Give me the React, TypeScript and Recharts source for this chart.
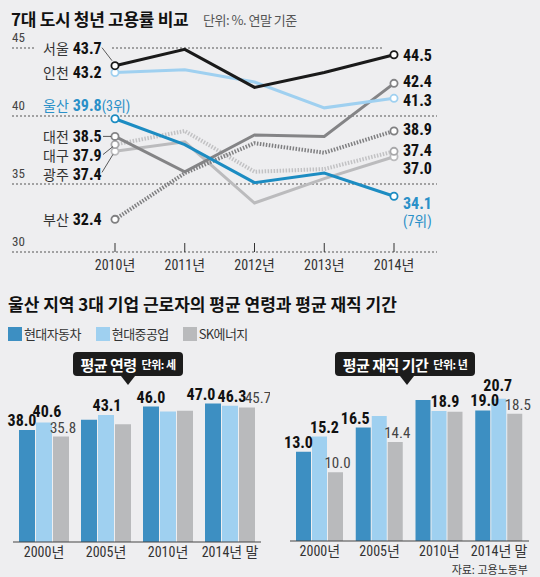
import React from 'react';
import {
  LineChart,
  Line,
  XAxis,
  YAxis,
  ReferenceLine,
  LabelList,
  BarChart,
  Bar,
} from 'recharts';

// 7대 도시 청년 고용률 (%), 연말 기준
const years = ['2010년', '2011년', '2012년', '2013년', '2014년'];
const seoul = [43.7, 44.9, 42.1, 43.2, 44.5];
const incheon = [43.2, 43.4, 42.5, 40.6, 41.3];
const ulsan = [39.8, 37.9, 35.1, 35.8, 34.1];
const daejeon = [38.5, 35.9, 38.6, 38.5, 42.4];
const daegu = [37.9, 38.9, 35.9, 36.1, 37.4];
const gwangju = [37.4, 38.1, 33.6, 35.4, 37.0];
const busan = [32.4, 35.8, 38.0, 37.3, 38.9];
const rateTicks = [30, 35, 40, 45];

// 울산 3대 기업
const barYears = ['2000년', '2005년', '2010년', '2014년 말'];
const companies = ['현대자동차', '현대중공업', 'SK에너지'];
const ageMotor = [38.0, 41.5, 46.0, 47.0];
const ageHeavy = [40.6, 43.1, 44.3, 46.3];
const ageSk = [35.8, 40.0, 44.6, 45.7];
const tenureMotor = [13.0, 16.5, 20.5, 19.0];
const tenureHeavy = [15.2, 18.2, 18.9, 20.7];
const tenureSk = [10.0, 14.4, 18.8, 18.5];
// values printed in the original graphic
const ageShown = [
  [true, false, true, true],
  [true, true, false, true],
  [true, false, false, true],
];
const tenureShown = [
  [true, true, false, true],
  [true, false, true, true],
  [true, true, false, true],
];

const BG = '#eeeef0';
const NARROW = "'Liberation Sans Narrow', 'Roboto Condensed', 'Noto Sans CJK KR', sans-serif";
const KR = "'Noto Sans CJK KR', sans-serif";
const barColors = ['#3d8fc2', '#9fd0f0', '#b9babc'];

const lineData = years.map((year, i) => ({
  year,
  seoul: seoul[i],
  incheon: incheon[i],
  ulsan: ulsan[i],
  daejeon: daejeon[i],
  daegu: daegu[i],
  gwangju: gwangju[i],
  busan: busan[i],
}));

type Series = {
  key: string;
  name: string;
  color: string;
  dash?: string;
  width: number;
  labelColor: string;
  leftDy: number;
  rightDy: number;
  leader?: number[];
  rank?: [string, string];
  mask?: boolean;
};

// drawn bottom to top
const series: Series[] = [
  { key: 'gwangju', name: '광주', color: '#bbbbbd', width: 3, labelColor: '#111', leftDy: 23, rightDy: 11, leader: [-13, 21, -2, 3] },
  { key: 'daegu', name: '대구', color: '#c2c2c4', dash: '1.5 1.5', width: 4, labelColor: '#111', leftDy: 11, rightDy: -1, leader: [-12, 10, -2, 2] },
  { key: 'busan', name: '부산', color: '#7f7f81', dash: '1.5 1.5', width: 4, labelColor: '#111', leftDy: 0, rightDy: -2 },
  { key: 'daejeon', name: '대전', color: '#848486', width: 3, labelColor: '#111', leftDy: 0, rightDy: -2, leader: [-12, 0, -4, 0] },
  { key: 'incheon', name: '인천', color: '#9fd0f0', width: 3, labelColor: '#111', leftDy: 0, rightDy: 1.5 },
  { key: 'seoul', name: '서울', color: '#1a1a1a', width: 3, labelColor: '#111', leftDy: -17, rightDy: 0, leader: [-13, -18, -3, -5], mask: true },
  { key: 'ulsan', name: '울산', color: '#1c8cc2', width: 3, labelColor: '#2a90c8', leftDy: -13, rightDy: 7, rank: ['(3위)', '(7위)'] },
];

function makeLineLabel(s: Series) {
  return (p: any) => {
    const { x, y, value, index } = p;
    if (index === 0) {
      const ty = y + s.leftDy;
      return (
        <g>
          {s.mask && <rect x={x - 80} y={ty - 8} width={77} height={16} fill={BG} />}
          {s.leader && (
            <line
              x1={x + s.leader[0]}
              y1={y + s.leader[1]}
              x2={x + s.leader[2]}
              y2={y + s.leader[3]}
              stroke="#333"
              strokeWidth={0.8}
            />
          )}
          <text x={x - 72} y={ty} dy="0.36em" fontFamily={NARROW}>
            <tspan fill={s.key === 'ulsan' ? s.labelColor : '#333'} fontSize={14} fontFamily={KR}>
              {s.name}
            </tspan>
            <tspan dx={4} fill={s.labelColor} fontSize={16} fontWeight={700}>
              {Number(value).toFixed(1)}
            </tspan>
            {s.rank && (
              <tspan fill={s.labelColor} fontSize={14}>
                {s.rank[0]}
              </tspan>
            )}
          </text>
        </g>
      );
    }
    if (index === years.length - 1) {
      const ty = y + s.rightDy;
      return (
        <g>
          {s.mask && <rect x={x - 12} y={y - 9} width={58} height={3.5} fill={BG} />}
          <text x={x + 9} y={ty} dy="0.36em" fontFamily={NARROW} fontSize={16} fontWeight={700} fill={s.labelColor}>
            {Number(value).toFixed(1)}
          </text>
          {s.rank && (
            <text x={x + 9} y={ty + 18} dy="0.36em" fontFamily={NARROW} fontSize={14} fill={s.labelColor}>
              {s.rank[1]}
            </text>
          )}
        </g>
      );
    }
    return null;
  };
}

function makeDot(s: Series) {
  return (p: any) => {
    const { cx, cy, index, key } = p;
    if (index !== 0 && index !== years.length - 1) return <g key={key} />;
    return <circle key={key} cx={cx} cy={cy} r={3.6} fill="#fff" stroke={s.color === '#c2c2c4' ? '#a8a8aa' : s.color} strokeWidth={1.8} />;
  };
}

const YearTick = (p: any) => {
  const { x, y, payload } = p;
  return (
    <g>
      <line x1={x} x2={x} y1={y - 9} y2={y} stroke="#333" strokeWidth={1} />
      <text x={x} y={y + 18} textAnchor="middle" fontFamily={NARROW} fontSize={14} fill="#333">
        {payload.value}
      </text>
    </g>
  );
};

const rateLabel = (v: number) => (p: any) => {
  const vb = p.viewBox || {};
  return (
    <text x={vb.x} y={vb.y - 6} fontFamily={NARROW} fontSize={13} fill="#444">
      {v}
    </text>
  );
};

function RateChart() {
  return (
    <LineChart
      width={540}
      height={290}
      data={lineData}
      margin={{ top: 48, right: 103, left: 12, bottom: 8 }}
    >
      <XAxis
        dataKey="year"
        height={30}
        padding={{ left: 103, right: 43 }}
        axisLine={false}
        tickLine={false}
        tickSize={0}
        tickMargin={0}
        tick={<YearTick />}
        interval={0}
      />
      <YAxis hide domain={[30, 45]} ticks={rateTicks} />
      {rateTicks.map((t) => (
        <ReferenceLine key={t} y={t} stroke="#555" strokeDasharray="2 2" strokeWidth={1} label={rateLabel(t)} />
      ))}
      {series.map((s) => (
        <Line
          key={s.key}
          dataKey={s.key}
          type="linear"
          stroke={s.color}
          strokeWidth={s.width}
          strokeDasharray={s.dash}
          dot={makeDot(s)}
          activeDot={false}
          isAnimationActive={false}
        >
          <LabelList dataKey={s.key} content={makeLineLabel(s)} />
        </Line>
      ))}
    </LineChart>
  );
}

const BarTick = (p: any) => {
  const { x, y, payload } = p;
  return (
    <text x={x} y={y} dy="0.71em" textAnchor="middle" fontFamily={NARROW} fontSize={14} fill="#333">
      {payload.value}
    </text>
  );
};

function makeBarLabel(shown: boolean[], dx: number[], dy: number[], bold: boolean) {
  return (p: any) => {
    const { x, y, width, value, index } = p;
    if (!shown[index]) return null;
    return (
      <text
        x={x + width / 2 + dx[index]}
        y={y - 4 + dy[index]}
        textAnchor="middle"
        fontFamily={NARROW}
        fontSize={bold ? 16 : 15}
        fontWeight={bold ? 700 : 400}
        fill={bold ? '#111' : '#444'}
      >
        {Number(value).toFixed(1)}
      </text>
    );
  };
}

type BarPanelProps = {
  values: number[][];
  shown: boolean[][];
  offsets: number[][];
  lifts: number[][];
  domainMax: number;
  axisHeight: number;
  margin: { top: number; right: number; left: number; bottom: number };
};

function BarPanel({ values, shown, offsets, lifts, domainMax, axisHeight, margin }: BarPanelProps) {
  const data = barYears.map((year, i) => ({
    year,
    motor: values[0][i],
    heavy: values[1][i],
    sk: values[2][i],
  }));
  const keys = ['motor', 'heavy', 'sk'];
  return (
    <BarChart width={270} height={200} data={data} margin={margin} barCategoryGap={6} barGap={1}>
      <XAxis
        dataKey="year"
        height={axisHeight}
        axisLine={{ stroke: '#444', strokeWidth: 1 }}
        tickLine={false}
        tickSize={0}
        tickMargin={5}
        tick={<BarTick />}
        interval={0}
      />
      <YAxis hide domain={[0, domainMax]} />
      {keys.map((k, j) => (
        <Bar key={k} dataKey={k} name={companies[j]} fill={barColors[j]} isAnimationActive={false}>
          <LabelList dataKey={k} content={makeBarLabel(shown[j], offsets[j], lifts[j], j < 2)} />
        </Bar>
      ))}
    </BarChart>
  );
}

function Callout({ left, top, width, tipX, title, unit }: any) {
  return (
    <div style={{ position: 'absolute', left, top }}>
      <div
        style={{
          width,
          height: 24,
          background: '#1c1c1c',
          borderRadius: 4,
          color: '#fff',
          fontFamily: KR,
          fontWeight: 700,
          display: 'flex',
          alignItems: 'center',
          justifyContent: 'center',
          gap: 5,
          letterSpacing: -0.5,
        }}
      >
        <span style={{ fontSize: 15 }}>{title}</span>
        <span style={{ fontSize: 11 }}>{unit}</span>
      </div>
      <div
        style={{
          position: 'absolute',
          left: tipX - 7,
          top: 24,
          width: 0,
          height: 0,
          borderLeft: '7px solid transparent',
          borderRight: '7px solid transparent',
          borderTop: '9px solid #1c1c1c',
        }}
      />
    </div>
  );
}

export default function App() {
  return (
    <div style={{ position: 'relative', width: 540, height: 577, background: BG, overflow: 'hidden' }}>
      <style>{'body{margin:0}'}</style>
      <div style={{ position: 'absolute', left: 0, top: 0 }}>
        <RateChart />
      </div>
      <div
        style={{
          position: 'absolute',
          left: 11,
          top: 10,
          fontFamily: KR,
          fontSize: 17,
          fontWeight: 700,
          lineHeight: '18px',
          letterSpacing: -0.3,
          color: '#111',
          whiteSpace: 'nowrap',
        }}
      >
        7대 도시 청년 고용률 비교
      </div>
      <div
        style={{
          position: 'absolute',
          left: 203,
          top: 12,
          fontFamily: KR,
          fontSize: 13,
          lineHeight: '16px',
          letterSpacing: -0.5,
          color: '#555',
          whiteSpace: 'nowrap',
        }}
      >
        단위: %. 연말 기준
      </div>

      <div
        style={{
          position: 'absolute',
          left: 8,
          top: 295,
          fontFamily: KR,
          fontSize: 17,
          fontWeight: 700,
          lineHeight: '18px',
          letterSpacing: 0,
          color: '#111',
          whiteSpace: 'nowrap',
        }}
      >
        울산 지역 3대 기업 근로자의 평균 연령과 평균 재직 기간
      </div>
      <div style={{ position: 'absolute', left: 8, top: 326, display: 'flex', alignItems: 'center' }}>
        {companies.map((c, j) => (
          <div key={c} style={{ display: 'flex', alignItems: 'center', marginRight: j === 0 ? 15 : 14 }}>
            <div style={{ width: 14, height: 14, background: barColors[j], marginRight: 2 }} />
            <span style={{ fontFamily: KR, fontSize: 13, letterSpacing: -0.6, color: '#333', lineHeight: '15px' }}>{c}</span>
          </div>
        ))}
      </div>

      <div style={{ position: 'absolute', left: 0, top: 370 }}>
        <BarPanel
          values={[ageMotor, ageHeavy, ageSk]}
          shown={ageShown}
          offsets={[
            [-5, 0, 0, -12],
            [3, 1, 0, 2],
            [2, 0, 0, 11],
          ]}
          lifts={[
            [0, 0, 0, 0],
            [-1, 0, 0, 0],
            [0, 0, 0, 0],
          ]}
          domainMax={55}
          axisHeight={28}
          margin={{ top: 10, right: 9, left: 13, bottom: 0 }}
        />
      </div>
      <div style={{ position: 'absolute', left: 270, top: 366 }}>
        <BarPanel
          values={[tenureMotor, tenureHeavy, tenureSk]}
          shown={tenureShown}
          offsets={[
            [-5, -8, 0, 2],
            [5, 0, 6, -1],
            [2, 2, 0, 3],
          ]}
          lifts={[
            [0, 0, 0, 0],
            [0, 0, 0, -4],
            [0, 0, 0, 0],
          ]}
          domainMax={24}
          axisHeight={25}
          margin={{ top: 10, right: 11, left: 20, bottom: 0 }}
        />
      </div>

      <Callout left={73} top={352} width={110} tipX={55} title="평균 연령" unit="단위: 세" />
      <Callout left={335} top={352} width={140} tipX={72} title="평균 재직 기간" unit="단위: 년" />

      <div
        style={{
          position: 'absolute',
          right: 12,
          top: 563,
          fontFamily: KR,
          fontSize: 11,
          lineHeight: '13px',
          color: '#333',
          whiteSpace: 'nowrap',
        }}
      >
        자료: 고용노동부
      </div>
    </div>
  );
}
